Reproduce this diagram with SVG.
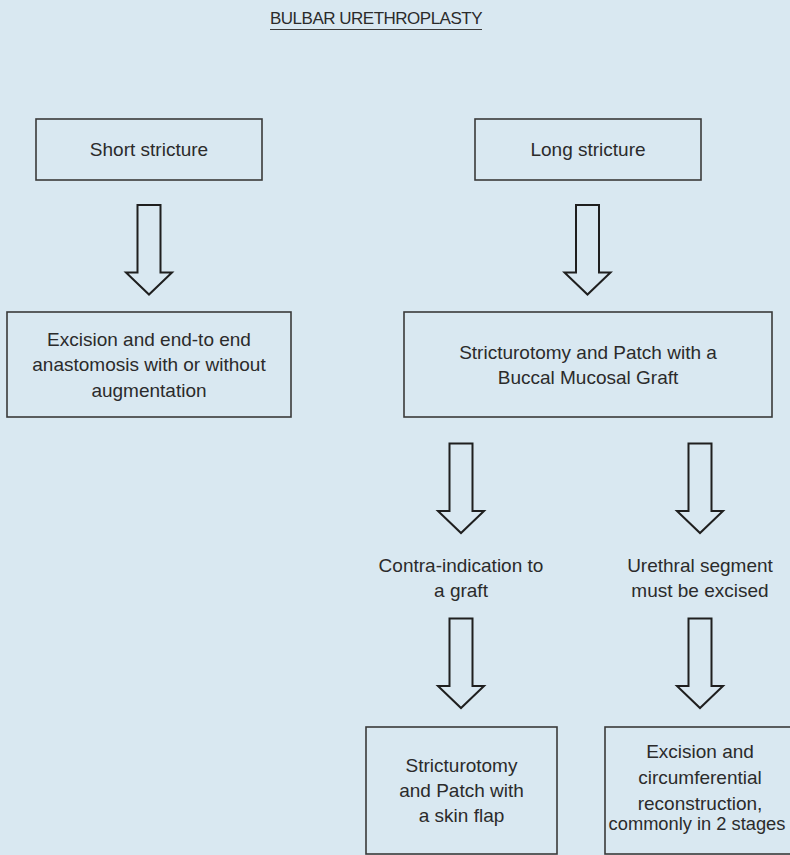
<svg xmlns="http://www.w3.org/2000/svg" xmlns:xlink="http://www.w3.org/1999/xlink" width="790" height="855" viewBox="0 0 790 855">
  <style>
    .bg { fill: #d9e8f1; }
    .box { fill: none; stroke: #3a3a3a; stroke-width: 1.6; }
    .arrow { fill: none; stroke: #1f1f1f; stroke-width: 2; stroke-linejoin: miter; }
    .t { font-family: "Liberation Sans", Arial, sans-serif; font-size: 19px; fill: #2b2b2b; text-anchor: middle; }
    .title { font-family: "Liberation Sans", Arial, sans-serif; font-size: 17px; letter-spacing: -0.5px; fill: #2b2b2b; text-anchor: middle; }
  </style>
  <defs>
    <path id="blockArrow" d="M -11.5 0 L 11.5 0 L 11.5 67.5 L 23 67.5 L 0 89.5 L -23 67.5 L -11.5 67.5 Z"/>
  </defs>
  <rect class="bg" x="0" y="0" width="790" height="855"/>

  <g id="title">
    <text class="title" x="376" y="24">BULBAR URETHROPLASTY</text>
    <line x1="270" y1="29.5" x2="482" y2="29.5" stroke="#3a3a3a" stroke-width="1.2"/>
  </g>

  <g id="short-stricture">
    <rect class="box" x="36" y="119" width="226" height="61"/>
    <text class="t" x="149" y="156">Short stricture</text>
  </g>

  <g id="long-stricture">
    <rect class="box" x="475" y="119" width="226" height="61"/>
    <text class="t" x="588" y="156">Long stricture</text>
  </g>

  <g id="excision-anastomosis">
    <rect class="box" x="7" y="312" width="284" height="105"/>
    <text class="t" x="149" y="346">Excision and end-to end</text>
    <text class="t" x="149" y="371">anastomosis with or without</text>
    <text class="t" x="149" y="397">augmentation</text>
  </g>

  <g id="stricturotomy-bmg">
    <rect class="box" x="404" y="312" width="368" height="105"/>
    <text class="t" x="588" y="359">Stricturotomy and Patch with a</text>
    <text class="t" x="588" y="384">Buccal Mucosal Graft</text>
  </g>

  <g id="contra-indication">
    <text class="t" x="461" y="572">Contra-indication to</text>
    <text class="t" x="461" y="597">a graft</text>
  </g>

  <g id="urethral-segment">
    <text class="t" x="700" y="572">Urethral segment</text>
    <text class="t" x="700" y="597">must be excised</text>
  </g>

  <g id="skin-flap">
    <rect class="box" x="366" y="727" width="191" height="127"/>
    <text class="t" x="461.5" y="772">Stricturotomy</text>
    <text class="t" x="461.5" y="797">and Patch with</text>
    <text class="t" x="461.5" y="822">a skin flap</text>
  </g>

  <g id="circumferential">
    <rect class="box" x="605" y="727" width="192" height="127"/>
    <text class="t" x="700" y="758">Excision and</text>
    <text class="t" x="700" y="784">circumferential</text>
    <text class="t" x="700" y="810">reconstruction,</text>
    <text class="t" x="697" y="830" style="font-size:18.3px">commonly in 2 stages</text>
  </g>

  <g id="connectors">
    <use xlink:href="#blockArrow" href="#blockArrow" class="arrow" transform="translate(149,205)"/>
    <use xlink:href="#blockArrow" href="#blockArrow" class="arrow" transform="translate(587.5,205)"/>
    <use xlink:href="#blockArrow" href="#blockArrow" class="arrow" transform="translate(461,443.5)"/>
    <use xlink:href="#blockArrow" href="#blockArrow" class="arrow" transform="translate(700,443.5)"/>
    <use xlink:href="#blockArrow" href="#blockArrow" class="arrow" transform="translate(461,618.5)"/>
    <use xlink:href="#blockArrow" href="#blockArrow" class="arrow" transform="translate(700,618.5)"/>
  </g>
</svg>
